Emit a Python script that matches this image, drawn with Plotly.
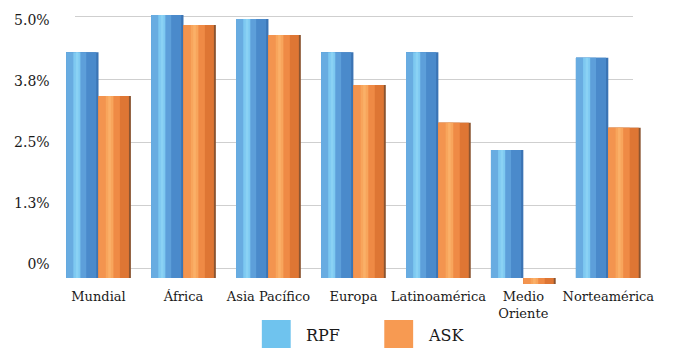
import plotly.graph_objects as go

# Regions and growth figures (%)
regions = ["Mundial", "África", "Asia Pacífico", "Europa", "Latinoamérica",
           "Medio<br>Oriente", "Norteamérica"]
rpf = [4.48, 5.22, 5.14, 4.48, 4.48, 2.54, 4.37]
ask = [3.61, 5.02, 4.82, 3.83, 3.08, -0.12, 2.98]

tick_vals = [0, 1.25, 2.5, 3.75, 5.0]
tick_text = ["0%", "1.3%", "2.5%", "3.8%", "5.0%"]

W, H = 673, 348
FONT = "DejaVu Serif"
TXT = "#1a1a1a"

x_idx = list(range(len(regions)))
bw = 0.381  # bar width in category units

# shading layers for cylinder-like columns: (start fraction, width fraction, colour)
blue_layers = [(0.0, 1.0, "#3b74b4"), (0.0, 0.93, "#4a8acb"), (0.0, 0.62, "#5d9fda"),
               (0.0, 0.22, "#68ace1"), (0.22, 0.22, "#7ec9f1"), (0.30, 0.08, "#8ad2f4")]
orange_layers = [(0.0, 1.0, "#8a5430"), (0.0, 0.94, "#de7634"), (0.0, 0.66, "#ef8a45"),
                 (0.0, 0.22, "#f3944f"), (0.22, 0.24, "#f8a55c"), (0.30, 0.08, "#fab068")]

fig = go.Figure()

# invisible traces so the gridline and tick-label axes are drawn
fig.add_trace(go.Scatter(x=[0, 1], y=[0, 5], mode="markers", marker=dict(opacity=0),
                         hoverinfo="skip", showlegend=False, xaxis="x", yaxis="y"))
fig.add_trace(go.Scatter(x=[0, 1], y=[0, 5], mode="markers", marker=dict(opacity=0),
                         hoverinfo="skip", showlegend=False, xaxis="x", yaxis="y3"))


def add_series(vals, layers, side):
    for start, frac, col in layers:
        offs = (-bw if side == 0 else 0.0) + start * bw
        fig.add_trace(go.Bar(
            x=x_idx, y=vals, width=[frac * bw] * len(vals),
            offset=[offs] * len(vals), marker=dict(color=col, line=dict(width=0)),
            showlegend=False, hoverinfo="skip", xaxis="x2", yaxis="y2",
        ))


add_series(rpf, blue_layers, 0)
add_series(ask, orange_layers, 1)

px_per_unit = 50.4
grid_bottom_px, grid_top_px = 278.08, 5.92
label_bottom_px, label_top_px = 273.76, 10.24
bar_zero_px = 278.0
bar_bottom_px, bar_top_px = 287.0, 0.0

fig.update_layout(
    width=W, height=H,
    margin=dict(l=0, r=0, t=0, b=0),
    paper_bgcolor="white",
    plot_bgcolor="rgba(0,0,0,0)",
    barmode="overlay",
    showlegend=False,
    font=dict(family=FONT, color=TXT),
    xaxis=dict(domain=[75 / W, 636 / W], range=[0, 1], visible=False, fixedrange=True),
    yaxis=dict(domain=[1 - grid_bottom_px / H, 1 - grid_top_px / H],
               range=[-0.2, 5.2], tickvals=tick_vals, showticklabels=False,
               showgrid=True, gridcolor="#cfcfcf", gridwidth=1.2, zeroline=False,
               showline=False, ticks=""),
    yaxis3=dict(domain=[1 - label_bottom_px / H, 1 - label_top_px / H],
                range=[-0.2, 5.2], tickvals=tick_vals, ticktext=tick_text,
                anchor="x", showgrid=False, zeroline=False, showline=False, ticks="",
                ticklabelstandoff=24, tickfont=dict(family=FONT, size=14, color=TXT)),
    xaxis2=dict(domain=[56.3 / W, 653.7 / W], range=[-0.5, 6.5],
                tickvals=x_idx, ticktext=regions, showgrid=False, zeroline=False,
                showline=False, ticks="", anchor="y2",
                tickfont=dict(family=FONT, size=13, color=TXT)),
    yaxis2=dict(domain=[1 - bar_bottom_px / H, 1 - bar_top_px / H],
                range=[(bar_zero_px - bar_bottom_px) / px_per_unit,
                       (bar_zero_px - bar_top_px) / px_per_unit],
                visible=False, anchor="x2", showgrid=False, zeroline=False),
)

# legend
legend_items = [("RPF", "#6fc3ee", 263), ("ASK", "#f79a52", 386)]
for name, col, x0 in legend_items:
    fig.add_shape(type="rect", xref="paper", yref="paper",
                  x0=x0 / W, x1=(x0 + 29) / W, y0=1 - 348 / H, y1=1 - 320 / H,
                  fillcolor=col, line=dict(width=0))
    fig.add_annotation(xref="paper", yref="paper", x=(x0 + 42) / W, y=1 - 335 / H,
                       text=name, showarrow=False, xanchor="left", yanchor="middle",
                       font=dict(family=FONT, size=16, color=TXT))

fig.write_html("out.html")
